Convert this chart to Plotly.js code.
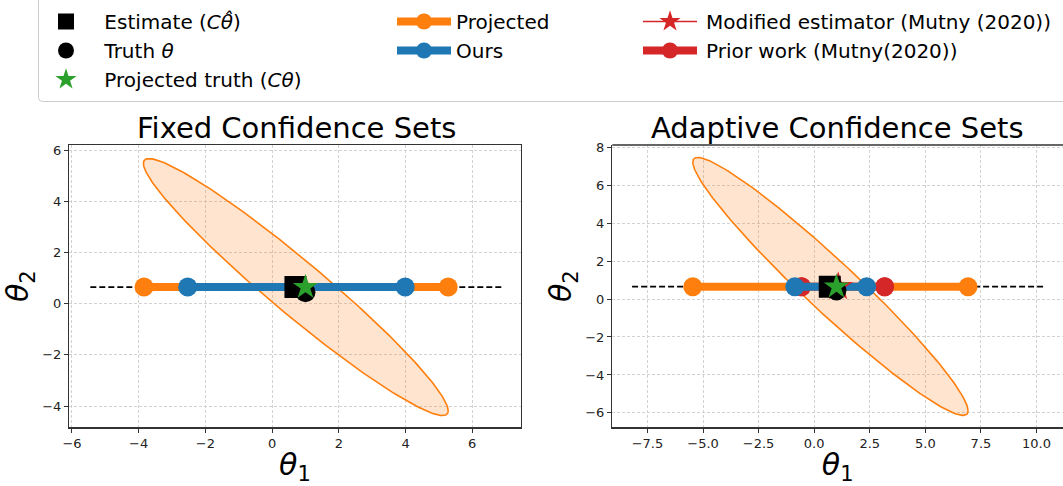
<!DOCTYPE html>
<html>
<head>
<meta charset="utf-8">
<script src="https://cdn.plot.ly/plotly-3.0.1.min.js"></script>
<style>
  html, body { margin: 0; padding: 0; background: #fff; }
  #chart { width: 1063px; height: 486px; }
</style>
</head>
<body>
<div id="chart"></div>
<script>
// ---------------- data ----------------
const lineY = 0.65;                       // theta_2 of the projection line
// Fixed confidence sets (left panel)
const fixedDashed    = [-5.45, 6.88];     // dashed projection line extent
const fixedProjected = [-3.84, 5.28];     // orange interval
const fixedOurs      = [-2.53, 3.99];     // blue interval
const fixedCenter    = [0.71, 0.65];      // ellipse centre
const fixedShape     = [[20.88, -22.09], [-22.09, 25.2]]; // ellipse shape matrix
// Adaptive confidence sets (right panel)
const adaptDashed    = [-8.19, 10.30];
const adaptProjected = [-5.46, 6.92];
const adaptOurs      = [-0.87, 2.36];
const adaptPrior     = [-0.57, 3.17];
const adaptModified  = [1.08, 0.65];
const adaptCenter    = [0.73, 0.665];
const adaptShape     = [[38.3, -40.54], [-40.54, 46.2]];
// points shared by both panels
const estimate       = [0.70, 0.65];      // C theta-hat
const truth          = [1.00, 0.45];      // theta
const projTruth      = [1.00, 0.65];      // C theta
// axis ticks
const fixedXTicks = [-6, -4, -2, 0, 2, 4, 6];
const fixedYTicks = [-4, -2, 0, 2, 4, 6];
const adaptXTicks = [-7.5, -5, -2.5, 0, 2.5, 5, 7.5, 10];
const adaptYTicks = [-6, -4, -2, 0, 2, 4, 6, 8];

// ---------------- helpers ----------------
function ellipseOutline(c, S, n) {
  const l11 = Math.sqrt(S[0][0]);
  const l21 = S[1][0] / l11;
  const l22 = Math.sqrt(S[1][1] - l21 * l21);
  const xs = [], ys = [];
  for (let i = 0; i <= n; i++) {
    const t = 2 * Math.PI * i / n;
    xs.push(c[0] + l11 * Math.cos(t));
    ys.push(c[1] + l21 * Math.cos(t) + l22 * Math.sin(t));
  }
  return {x: xs, y: ys};
}

const C_ORANGE = '#ff7f0e', C_BLUE = '#1f77b4', C_RED = '#d62728', C_GREEN = '#2ca02c';
const FONT = 'DejaVu Sans, Liberation Sans, sans-serif';
const LW = 8, MS = 19;
const NB = '\u00a0', TH = '\u2009';

function panelTraces(xa, ya, ell, dashed) {
  const e = ellipseOutline(ell[0], ell[1], 240);
  return [
    {x: e.x, y: e.y, xaxis: xa, yaxis: ya, mode: 'lines', fill: 'toself',
     fillcolor: 'rgba(255,127,14,0.2)', line: {color: C_ORANGE, width: 1.6},
     showlegend: false, hoverinfo: 'skip'},
    {x: dashed, y: [lineY, lineY], xaxis: xa, yaxis: ya, mode: 'lines',
     line: {color: '#000', width: 1.7, dash: '6px,3px'}, showlegend: false}
  ];
}

const fixedEll = [fixedCenter, fixedShape];
const adaptEll = [adaptCenter, adaptShape];

const traces = [];
// ---- left panel ----
traces.push(...panelTraces('x', 'y', fixedEll, fixedDashed));
traces.push({x: fixedProjected, y: [lineY, lineY], xaxis: 'x', yaxis: 'y', mode: 'lines+markers',
  name: 'Projected', legend: 'legend2', legendrank: 1,
  line: {color: C_ORANGE, width: LW}, marker: {color: C_ORANGE, size: MS}});
traces.push({x: fixedOurs, y: [lineY, lineY], xaxis: 'x', yaxis: 'y', mode: 'lines+markers',
  name: 'Ours', legend: 'legend2', legendrank: 2,
  line: {color: C_BLUE, width: LW}, marker: {color: C_BLUE, size: MS}});
traces.push({x: [estimate[0]], y: [estimate[1]], xaxis: 'x', yaxis: 'y', mode: 'markers',
  name: NB + 'Estimate (<i>Cθ̂</i>)', legend: 'legend', legendrank: 1,
  marker: {color: '#000', symbol: 'square', size: 22}});
traces.push({x: [truth[0]], y: [truth[1]], xaxis: 'x', yaxis: 'y', mode: 'markers',
  name: NB + 'Truth <i>θ</i>', legend: 'legend', legendrank: 2,
  marker: {color: '#000', symbol: 'circle', size: 20}});
traces.push({x: [projTruth[0]], y: [projTruth[1]], xaxis: 'x', yaxis: 'y', mode: 'markers',
  name: NB + 'Projected truth (<i>Cθ</i>)', legend: 'legend', legendrank: 3,
  marker: {color: C_GREEN, symbol: 'star', size: 19}});

// ---- right panel ----
traces.push(...panelTraces('x2', 'y2', adaptEll, adaptDashed));
traces.push({x: adaptPrior, y: [lineY, lineY], xaxis: 'x2', yaxis: 'y2', mode: 'lines+markers',
  name: TH + 'Prior work (Mutny(2020))', legend: 'legend3', legendrank: 2,
  line: {color: C_RED, width: LW}, marker: {color: C_RED, size: MS}});
traces.push({x: adaptProjected, y: [lineY, lineY], xaxis: 'x2', yaxis: 'y2', mode: 'lines+markers',
  showlegend: false, line: {color: C_ORANGE, width: LW}, marker: {color: C_ORANGE, size: MS}});
traces.push({x: adaptPrior, y: [lineY, lineY], xaxis: 'x2', yaxis: 'y2', mode: 'markers',
  showlegend: false, marker: {color: C_RED, size: MS}});
traces.push({x: adaptOurs, y: [lineY, lineY], xaxis: 'x2', yaxis: 'y2', mode: 'lines+markers',
  showlegend: false, line: {color: C_BLUE, width: LW}, marker: {color: C_BLUE, size: MS}});
traces.push({x: [adaptModified[0]], y: [adaptModified[1]], xaxis: 'x2', yaxis: 'y2', mode: 'lines+markers',
  name: TH + 'Modified estimator (Mutny (2020))', legend: 'legend3', legendrank: 1,
  line: {color: C_RED, width: 1.6}, marker: {color: C_RED, symbol: 'star', size: 22}});
traces.push({x: [estimate[0]], y: [estimate[1]], xaxis: 'x2', yaxis: 'y2', mode: 'markers',
  showlegend: false, marker: {color: '#000', symbol: 'square', size: 22}});
traces.push({x: [truth[0]], y: [truth[1]], xaxis: 'x2', yaxis: 'y2', mode: 'markers',
  showlegend: false, marker: {color: '#000', symbol: 'circle', size: 20}});
traces.push({x: [projTruth[0]], y: [projTruth[1]], xaxis: 'x2', yaxis: 'y2', mode: 'markers',
  showlegend: false, marker: {color: C_GREEN, symbol: 'star', size: 19}});

// ---------------- layout ----------------
const W = 1063, H = 486;
const yDom = [1 - 427.3 / H, 1 - 145 / H];
function axisBase(ticks, range, fmt) {
  return {
    range: range, tickmode: 'array', tickvals: ticks,
    ticktext: ticks.map(v => (v < 0 ? '\u2212' : '') + (fmt ? Math.abs(v).toFixed(1) : String(Math.abs(v)))),
    showgrid: true, gridcolor: '#d2d2d2', griddash: '3px,2px', gridwidth: 1,
    zeroline: false, showline: true, linecolor: '#333', linewidth: 1.3,
    ticks: 'outside', ticklen: 4, tickwidth: 1, tickcolor: '#333',
    tickfont: {family: FONT, size: 13, color: '#222'}, fixedrange: true, automargin: false
  };
}
const xTitle = {text: '<i>θ</i><sub>1</sub>', font: {family: FONT, size: 30, color: '#000'}, standoff: 4};
const yTitle = {text: '<i>θ</i><sub>2</sub>', font: {family: FONT, size: 30, color: '#000'}, standoff: 4};

const legBase = {
  yanchor: 'top', xanchor: 'left', y: 1 - 2 / H, orientation: 'v',
  bgcolor: 'rgba(0,0,0,0)', borderwidth: 0, itemwidth: 54,
  font: {family: FONT, size: 20, color: '#000'}, itemclick: false, itemdoubleclick: false
};

const rx = 4 / W, ry = 4 / H, Lx = 38.5 / W, By = 1 - 101.5 / H;
const legendBox = 'M 1.02,1.05 L ' + Lx + ',1.05 L ' + Lx + ',' + (By + ry) +
  ' Q ' + Lx + ',' + By + ' ' + (Lx + rx) + ',' + By + ' L 1.02,' + By;

const layout = {
  width: W, height: H,
  margin: {l: 0, r: 0, t: 0, b: 0, pad: 0},
  paper_bgcolor: '#fff', plot_bgcolor: '#fff',
  font: {family: FONT, color: '#000'},
  xaxis: Object.assign(axisBase(fixedXTicks, [-6.08, 7.45], false),
    {domain: [69.3 / W, 520.6 / W], anchor: 'y', mirror: true, title: xTitle}),
  yaxis: Object.assign(axisBase(fixedYTicks, [-4.83, 6.2], false),
    {domain: yDom, anchor: 'x', mirror: true, title: yTitle}),
  xaxis2: Object.assign(axisBase(adaptXTicks, [-9.08, 11.19], true),
    {domain: [612.3 / W, 1], anchor: 'y2', mirror: false, title: xTitle}),
  yaxis2: Object.assign(axisBase(adaptYTicks, [-6.76, 8.12], false),
    {domain: yDom, anchor: 'x2', mirror: false, title: yTitle}),
  legend:  Object.assign({}, legBase, {x: 34 / W}),
  legend2: Object.assign({}, legBase, {x: 392 / W}),
  legend3: Object.assign({}, legBase, {x: 638 / W}),
  shapes: [
    {type: 'line', xref: 'x2 domain', yref: 'y2 domain', x0: 0, x1: 1, y0: 1, y1: 1,
     line: {color: '#333', width: 1.3}},
    {type: 'path', xref: 'paper', yref: 'paper', path: legendBox,
     line: {color: '#cccccc', width: 1}}
  ],
  annotations: [
    {text: 'Fixed Confidence Sets', xref: 'paper', yref: 'paper', x: 296 / W, y: 1 - 128 / H,
     xanchor: 'center', yanchor: 'middle', showarrow: false, font: {family: FONT, size: 29, color: '#000'}},
    {text: 'Adaptive Confidence Sets', xref: 'paper', yref: 'paper', x: 837.8 / W, y: 1 - 128 / H,
     xanchor: 'center', yanchor: 'middle', showarrow: false, font: {family: FONT, size: 29, color: '#000'}}
  ],
  showlegend: true
};

Plotly.newPlot('chart', traces, layout, {displayModeBar: false, staticPlot: true});
</script>
</body>
</html>
